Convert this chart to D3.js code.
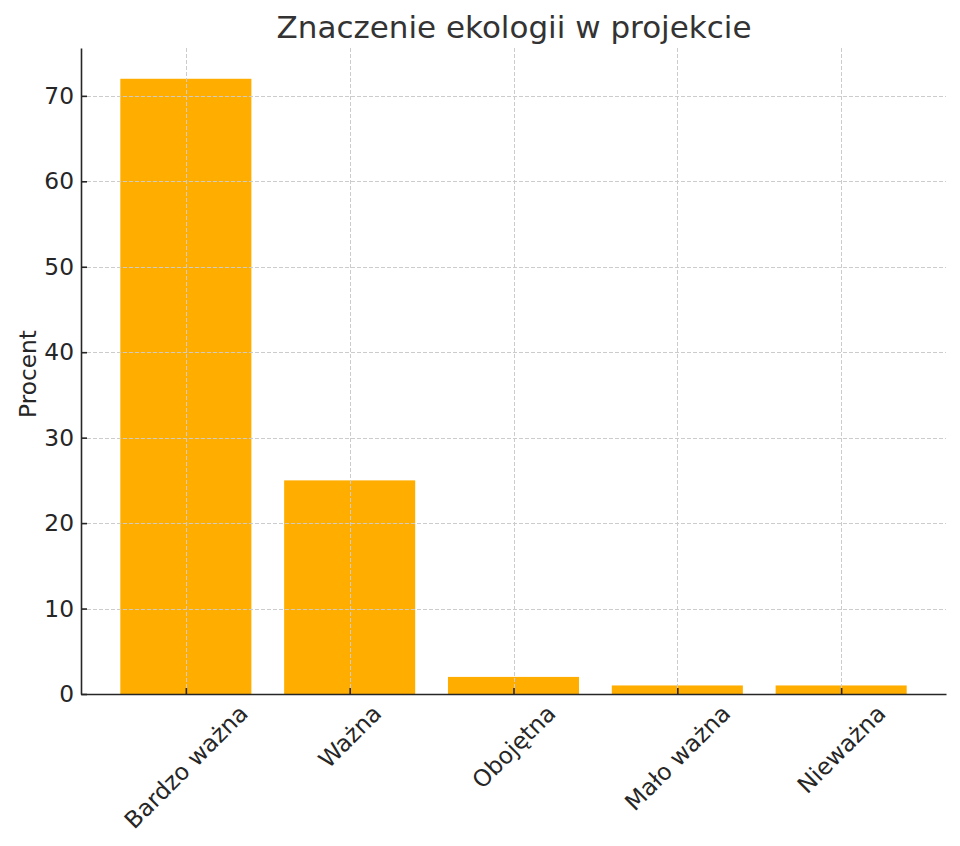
<!DOCTYPE html>
<html><head><meta charset="utf-8">
<script src="https://cdn.jsdelivr.net/npm/d3@7"></script>
<style>body{margin:0;background:#fff}svg{display:block}text{font-family:"DejaVu Sans",sans-serif}</style>
</head><body><svg id="c" width="960" height="846"></svg>
<script>
const categories = ["Bardzo ważna", "Ważna", "Obojętna", "Mało ważna", "Nieważna"];
const values = [72, 25, 2, 1, 1];
const yTicks = [0, 10, 20, 30, 40, 50, 60, 70];
const title = "Znaczenie ekologii w projekcie";
const yLabel = "Procent";

const svg = d3.select("#c");
const L = 81, R = 946, T = 48, B = 694;
const x = d3.scaleLinear().domain([-0.64, categories.length - 1 + 0.64]).range([L, R]);
const y = d3.scaleLinear().domain([0, 75.6]).range([B, T]);
const bw = x(0.4) - x(-0.4);

svg.append("g").selectAll("rect").data(values).join("rect")
  .attr("x", (d, i) => x(i) - bw / 2).attr("width", bw)
  .attr("y", d => y(d)).attr("height", d => B - y(d))
  .attr("fill", "#ffae00");

const grid = svg.append("g").attr("stroke", "#cccccc").attr("stroke-width", 1).attr("stroke-dasharray", "4,2");
grid.selectAll("line.h").data(yTicks).join("line").attr("class", "h")
  .attr("x1", L).attr("x2", R).attr("y1", d => Math.round(y(d)) + 0.5).attr("y2", d => Math.round(y(d)) + 0.5);
grid.selectAll("line.v").data(categories).join("line").attr("class", "v")
  .attr("x1", (d, i) => Math.round(x(i)) + 0.5).attr("x2", (d, i) => Math.round(x(i)) + 0.5).attr("y1", T).attr("y2", B);

const fs = 23.3;
// y axis
const yAxis = d3.axisLeft(y).tickValues(yTicks).tickSizeInner(-6).tickSizeOuter(0).tickPadding(7);
const gy = svg.append("g").attr("transform", `translate(${L},0)`).call(yAxis);
gy.attr("font-size", null).attr("font-family", null);
gy.select(".domain").attr("stroke", "#262626").attr("stroke-width", 1.6);
gy.selectAll(".tick line").attr("stroke", "#262626").attr("stroke-width", 1.6);
gy.selectAll(".tick text").style("font-size", fs + "px").attr("fill", "#262626");

// x axis
const xAxis = d3.axisBottom(x).tickValues(d3.range(categories.length)).tickFormat(() => "").tickSizeInner(-6).tickSizeOuter(0);
const gx = svg.append("g").attr("transform", `translate(0,${B})`).call(xAxis);
gx.select(".domain").attr("stroke", "#262626").attr("stroke-width", 1.6);
gx.selectAll(".tick line").attr("stroke", "#262626").attr("stroke-width", 1.6);

svg.append("g").selectAll("text").data(categories).join("text")
  .style("font-size", fs + "px").attr("fill", "#262626").attr("text-anchor", "middle")
  .attr("dominant-baseline", "central")
  .text(d => d)
  .each(function (d, i) {
    const len = this.getComputedTextLength();
    const h = fs * 0.95;
    const bh = (len + h) * Math.SQRT1_2;
    const cx = x(i), cy = B + 7 + bh / 2;
    d3.select(this).attr("transform", `translate(${cx},${cy}) rotate(-45)`);
  });

svg.append("text").attr("x", (L + R) / 2 + 0.5).attr("y", 38).attr("text-anchor", "middle")
  .style("font-size", "31px").attr("fill", "#333333").text(title);

svg.append("text").attr("transform", `translate(36,${(T + B) / 2 + 3}) rotate(-90)`)
  .attr("text-anchor", "middle").style("font-size", fs + "px").attr("fill", "#262626").text(yLabel);
</script></body></html>
